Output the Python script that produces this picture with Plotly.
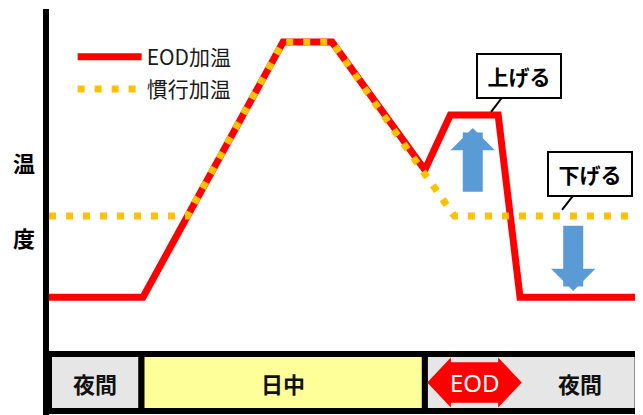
import plotly.graph_objects as go
from plotly.subplots import make_subplots

# time axis 0-100 (one day cycle), temperature in relative units 0-100
eod_time = [0, 15.9, 39.6, 47.9, 63.6, 67.9, 76.0, 79.7, 100]
eod_temp = [15.5, 15.5, 90.3, 90.3, 52.8, 68.9, 68.9, 15.5, 15.5]

conv_time = [0, 23.4, 39.6, 47.9, 68.6, 100]
conv_temp = [39.3, 39.3, 90.3, 90.3, 39.3, 39.3]

band_labels = ["夜間", "日中", "夜間"]
band_start = [0, 15.65, 63.6]
band_end = [15.65, 63.6, 99.6]
band_colors = ["#E7E6E6", "#FFFF99", "#E7E6E6"]
band_label_x = [7.8, 39.6, 89.8]

eod_period = [64.0, 80.0]

FONT = "Noto Sans CJK JP"

fig = make_subplots(rows=2, cols=1, shared_xaxes=True,
                    vertical_spacing=0,
                    row_heights=[341 / 406, 65 / 406])

fig.add_trace(go.Scatter(x=eod_time, y=eod_temp, mode="lines",
                         name="EOD加温", legendgroup="a",
                         line=dict(color="#FF0000", width=7)),
              row=1, col=1)
fig.add_trace(go.Scatter(x=conv_time, y=conv_temp, mode="lines",
                         name="慣行加温", legendgroup="b",
                         line=dict(color="#FFC000", width=7, dash="7px,10px")),
              row=1, col=1)

# time-of-day band
fig.add_trace(go.Bar(y=[0] * len(band_labels),
                     x=[e - s for s, e in zip(band_start, band_end)],
                     base=band_start, orientation="h", width=0.88,
                     marker=dict(color=band_colors,
                                 line=dict(color="black", width=6)),
                     showlegend=False, hoverinfo="skip"),
              row=2, col=1)

# EOD double arrow inside the band
s, e = eod_period
head = 4.0
hy, sy = 0.385, 0.31
ax_pts = [s, s + head, s + head, e - head, e - head, e, e - head, e - head, s + head, s + head, s]
ay_pts = [0, hy, sy, sy, hy, 0, -hy, -sy, -sy, -hy, 0]
fig.add_trace(go.Scatter(x=ax_pts, y=ay_pts, mode="lines", fill="toself",
                         fillcolor="#FF0000", line=dict(width=0),
                         showlegend=False, hoverinfo="skip"),
              row=2, col=1)

for lab, lx in zip(band_labels, band_label_x):
    fig.add_annotation(x=lx, y=0, text=lab, showarrow=False,
                       font=dict(family=FONT, size=22, color="#111111", weight="bold"),
                       row=2, col=1)
fig.add_annotation(x=(s + e) / 2, y=0, text="EOD", showarrow=False,
                   font=dict(family="Noto Sans", size=24, color="white"),
                   row=2, col=1)

# callouts
callouts = [("上げる", 74.8, 69.8, 79.5, 80.5), ("下げる", 86.8, 41.1, 91.5, 51.5)]
for txt, tx, ty, bx, by in callouts:
    fig.add_annotation(x=tx, y=ty, ax=bx, ay=by, axref="x", ayref="y",
                       text=txt, showarrow=True, arrowhead=0, arrowwidth=2,
                       arrowcolor="black", standoff=0,
                       width=80, height=40, borderpad=1,
                       bordercolor="black", borderwidth=2, bgcolor="white",
                       font=dict(family=FONT, size=21, color="black", weight="bold"),
                       row=1, col=1)

# blue up / down arrows
arrows = [(71.7, 46.0, 65.1), (88.7, 36.9, 17.3)]
for axx, y0, y1 in arrows:
    fig.add_annotation(x=axx, y=y1, ax=axx, ay=y0, axref="x", ayref="y",
                       text="", showarrow=True, arrowhead=1, arrowsize=0.37,
                       arrowwidth=20, arrowcolor="#5B9BD5", standoff=0,
                       row=1, col=1)

# y axis title, one character per line
for ch, py in [("温", 55.1), ("度", 33.1)]:
    fig.add_annotation(x=-0.042, y=py, xref="paper", yref="y", text=ch,
                       xanchor="center", yanchor="middle", showarrow=False,
                       font=dict(family=FONT, size=22, color="black", weight="bold"))

fig.update_xaxes(range=[0, 100], showgrid=False, zeroline=False,
                 showticklabels=False, ticks="", showline=False)
fig.update_yaxes(showgrid=False, zeroline=False, showticklabels=False,
                 ticks="", showline=True, linewidth=6, linecolor="black")
fig.update_yaxes(range=[0, 100], row=1, col=1)
fig.update_yaxes(range=[-0.5, 0.5], row=2, col=1)

# page body has an 8px margin, so the figure is 8px smaller than the window
fig.update_layout(
    width=635, height=407,
    margin=dict(l=41, r=3, t=1, b=0),
    paper_bgcolor="white", plot_bgcolor="white",
    barmode="overlay",
    showlegend=True,
    legend=dict(x=0.04, y=0.932, xanchor="left", yanchor="top",
                bgcolor="rgba(0,0,0,0)", itemwidth=64, tracegroupgap=2,
                font=dict(family=FONT, size=21, color="#1a1a1a")),
)

fig.write_html("out.html")
